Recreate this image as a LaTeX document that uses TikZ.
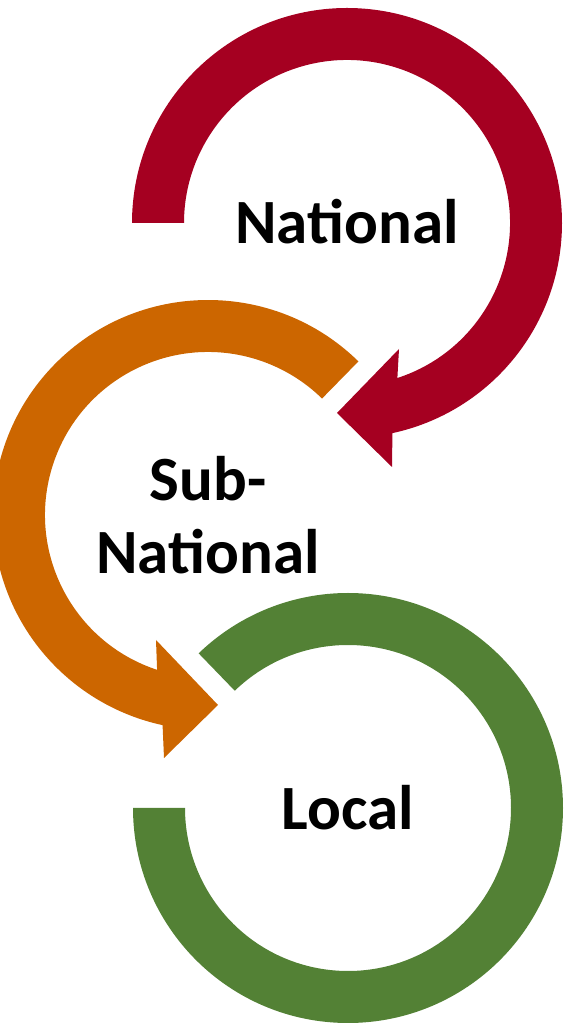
\documentclass[tikz,border=0pt]{standalone}
\usepackage{fontspec}
\setmainfont{Carlito}
\usetikzlibrary{calc}
\definecolor{natred}{RGB}{165,0,33}
\definecolor{suborange}{RGB}{204,102,0}
\definecolor{locgreen}{RGB}{83,129,53}
\begin{document}
\begin{tikzpicture}[x=1pt,y=1pt,
  lbl/.style={inner sep=0pt, font=\fontsize{63}{73}\selectfont\bfseries, align=center, text=black}]
\useasboundingbox (0,0) rectangle (563,1023);
\clip (0,0) rectangle (563,1023);
% red ring (center 347,800)
\fill[natred] (132,800) arc[start angle=180, end angle=-77.8, radius=215]
  -- (392,556) -- (337,610) -- (399,674)
  -- ($(347,800)+(-72:163)$) arc[start angle=-72, end angle=180, radius=163] -- cycle;
% orange ring (center 208,508)
\fill[suborange] ($(208,508)+(45.6:215)$) arc[start angle=45.6, end angle=257.8, radius=215]
  -- (164,265) -- (218,318) -- (156,383)
  -- ($(208,508)+(251.8:163)$) arc[start angle=251.8, end angle=45.6, radius=163] -- cycle;
% green ring (center 348,215)
\fill[locgreen] (133,215) arc[start angle=180, end angle=494, radius=215]
  -- ($(348,215)+(494:163)$) arc[start angle=494, end angle=180, radius=163] -- cycle;
\node[lbl] (nat) at (347,801) {National};
\node[lbl] (sub) at (208,508) {Sub-\\National};
\node[lbl] (loc) at (348,215) {Local};
\end{tikzpicture}
\end{document}
